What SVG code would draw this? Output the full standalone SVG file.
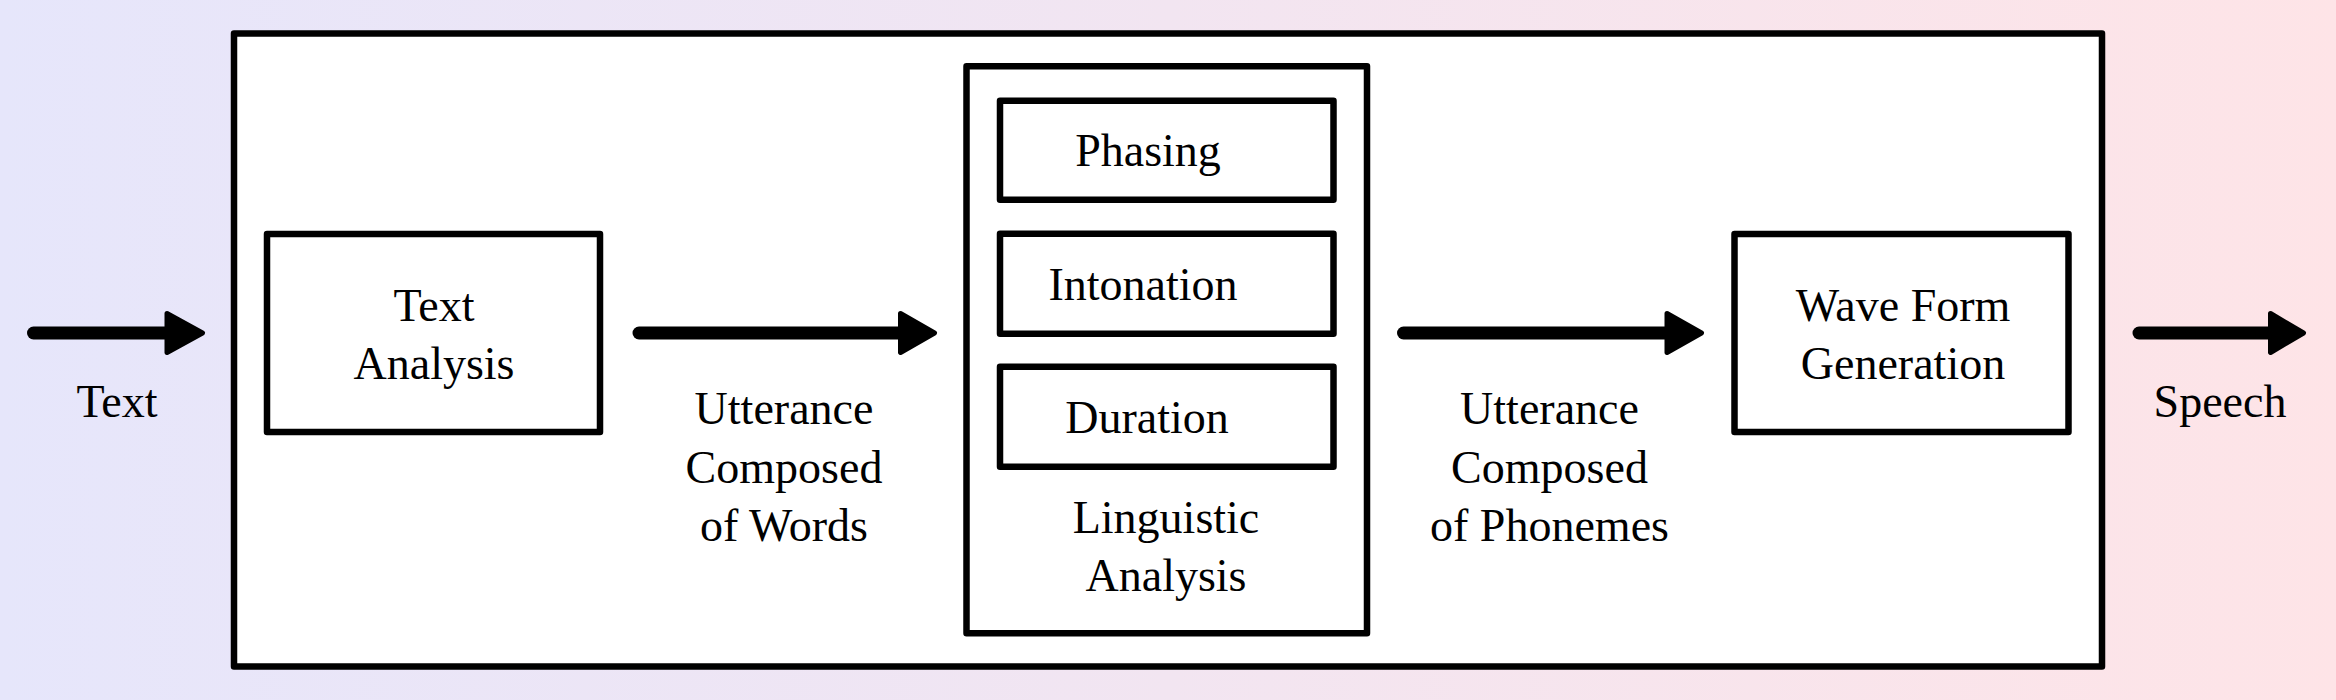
<svg xmlns="http://www.w3.org/2000/svg" width="2336" height="700" viewBox="0 0 2336 700" font-family="Liberation Serif, Times New Roman, serif">
  <defs>
    <linearGradient id="bg" x1="0" y1="0" x2="1" y2="0">
      <stop offset="0" stop-color="#E6E6FB"/>
      <stop offset="1" stop-color="#FEE4E7"/>
    </linearGradient>
    <style>
      .box { fill: #FFFFFF; stroke: #000000; stroke-width: 6.5; stroke-linejoin: round; }
      .shaft { stroke: #000000; stroke-width: 13; stroke-linecap: round; fill: none; }
      .head { fill: #000000; stroke: #000000; stroke-width: 5; stroke-linejoin: round; }
      .lbl { font-size: 46px; fill: #000000; text-anchor: middle; }
    </style>
  </defs>
  <rect x="0" y="0" width="2336" height="700" fill="url(#bg)"/>

  <g id="system">
    <rect class="box" x="234" y="33.5" width="1868" height="633"/>
  </g>

  <g id="text-analysis">
    <rect class="box" x="267" y="234" width="333" height="198"/>
    <text class="lbl" x="434" y="321">Text</text>
    <text class="lbl" x="434" y="379">Analysis</text>
  </g>

  <g id="linguistic-analysis">
    <rect class="box" x="966.5" y="66.3" width="400.5" height="567"/>
    <text class="lbl" x="1166" y="533">Linguistic</text>
    <text class="lbl" x="1166" y="591">Analysis</text>
  </g>

  <g id="phasing">
    <rect class="box" x="1000" y="100.7" width="333.5" height="99"/>
    <text class="lbl" x="1148" y="166">Phasing</text>
  </g>

  <g id="intonation">
    <rect class="box" x="1000" y="233.7" width="333.5" height="100"/>
    <text class="lbl" x="1143" y="300">Intonation</text>
  </g>

  <g id="duration">
    <rect class="box" x="1000" y="366.7" width="333.5" height="100"/>
    <text class="lbl" x="1147" y="433">Duration</text>
  </g>

  <g id="wave-form-generation">
    <rect class="box" x="1734.5" y="234" width="334" height="198"/>
    <text class="lbl" x="1903" y="321">Wave Form</text>
    <text class="lbl" x="1903" y="379">Generation</text>
  </g>

  <g id="connectors">
    <line class="shaft" x1="33.5" y1="333" x2="170" y2="333"/>
    <path class="head" d="M167 313.5 L202.5 333 L167 352.5 Z"/>

    <line class="shaft" x1="639" y1="333" x2="903" y2="333"/>
    <path class="head" d="M900.5 313.5 L934.5 333 L900.5 352.5 Z"/>

    <line class="shaft" x1="1403.5" y1="333" x2="1670" y2="333"/>
    <path class="head" d="M1667 313.5 L1701.5 333 L1667 352.5 Z"/>

    <line class="shaft" x1="2139" y1="333" x2="2273" y2="333"/>
    <path class="head" d="M2270.5 313.5 L2303.5 333 L2270.5 352.5 Z"/>
  </g>

  <g id="labels">
    <text class="lbl" x="117" y="416.5">Text</text>
    <text class="lbl" x="784" y="424">Utterance</text>
    <text class="lbl" x="784" y="482.5">Composed</text>
    <text class="lbl" x="784" y="541">of Words</text>
    <text class="lbl" x="1549.5" y="424">Utterance</text>
    <text class="lbl" x="1549.5" y="482.5">Composed</text>
    <text class="lbl" x="1549.5" y="541">of Phonemes</text>
    <text class="lbl" x="2220" y="416.5">Speech</text>
  </g>
</svg>
